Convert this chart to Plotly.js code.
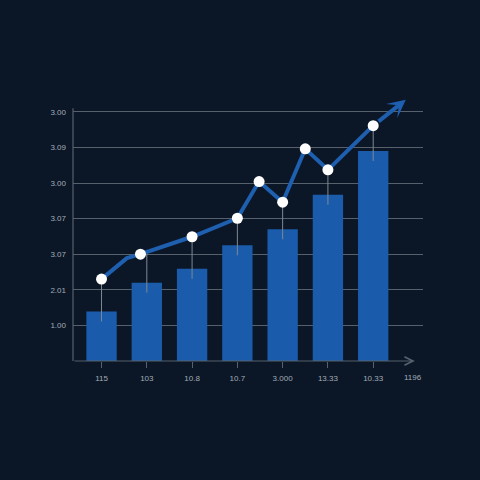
<!DOCTYPE html>
<html>
<head>
<meta charset="utf-8">
<script src="https://cdn.plot.ly/plotly-3.0.1.min.js"></script>
<style>
  html, body { margin: 0; padding: 0; background: #0b1727; }
  #plot { width: 480px; height: 480px; }
</style>
</head>
<body>
<div id="plot"></div>
<script>
// bars
const barX = [0, 1, 2, 3, 4, 5, 6];
const barVals = [1.39, 2.20, 2.59, 3.25, 3.70, 4.67, 5.90];
const xLabels = ["115", "103", "10.8", "10.7", "3.000", "13.33", "10.33"];

// trend line (the bend at 0.56 has no marker)
const lineX = [0, 0.56, 0.86, 2, 3, 3.48, 4, 4.5, 5, 6];
const lineY = [2.30, 2.89, 3.00, 3.49, 4.01, 5.04, 4.46, 5.96, 5.37, 6.61];
const dotX = [0, 0.86, 2, 3, 3.48, 4, 4.5, 5, 6];
const dotY = [2.30, 3.00, 3.49, 4.01, 5.04, 4.46, 5.96, 5.37, 6.61];
const arrowTip = [6.72, 7.34];

// thin stems from the line down into each bar
const stemTop = [2.30, 3.04, 3.49, 4.01, 4.46, 5.37, 6.61];

const yTickVals = [1, 2, 3, 4, 5, 6, 7];
const yTickText = ["1.00", "2.01", "3.07", "3.07", "3.00", "3.09", "3.00"];
const extraXLabel = "1196";

const gridCol = "#56616d";
const textCol = "#a3abb6";
const blue = "#1a5cab";

const stemX = [], stemY = [];
barX.forEach((x, i) => {
  stemX.push(x, x, null);
  stemY.push(stemTop[i], barVals[i] - 0.28, null);
});

const bars = {
  type: "bar",
  x: barX,
  y: barVals,
  width: 0.67,
  marker: { color: blue },
  hoverinfo: "skip"
};

const stems = {
  type: "scatter",
  mode: "lines",
  x: stemX,
  y: stemY,
  line: { color: "#7f8993", width: 1 },
  hoverinfo: "skip"
};

const line = {
  type: "scatter",
  mode: "lines",
  x: lineX,
  y: lineY,
  line: { color: "#1f5fb0", width: 4 },
  hoverinfo: "skip"
};

const dots = {
  type: "scatter",
  mode: "markers",
  x: dotX,
  y: dotY,
  marker: { color: "#ffffff", size: 11 },
  hoverinfo: "skip"
};

const layout = {
  width: 480,
  height: 480,
  paper_bgcolor: "#0b1727",
  plot_bgcolor: "#0b1727",
  margin: { l: 73, r: 57, t: 94, b: 119 },
  showlegend: false,
  font: { family: "Liberation Sans, Arial, sans-serif", size: 8, color: textCol },
  xaxis: {
    range: [-0.63, 7.1],
    tickvals: barX,
    ticktext: xLabels,
    ticks: "outside",
    ticklen: 6,
    tickcolor: gridCol,
    ticklabelstandoff: 3,
    showgrid: false,
    zeroline: false,
    showline: false,
    fixedrange: true
  },
  yaxis: {
    range: [0, 7.5],
    tickvals: yTickVals,
    ticktext: yTickText,
    ticks: "",
    ticklabelstandoff: 6,
    showgrid: true,
    gridcolor: gridCol,
    gridwidth: 1,
    zeroline: false,
    showline: false,
    fixedrange: true
  },
  shapes: [
    {
      type: "line", xref: "paper", yref: "y",
      x0: 0, x1: 0, y0: 0, y1: 7.1,
      line: { color: gridCol, width: 1.2 }
    }
  ],
  annotations: [
    {
      // x axis with open arrowhead
      xref: "x", yref: "y", axref: "x", ayref: "y",
      x: 6.92, y: 0, ax: -0.63, ay: 0,
      text: "", showarrow: true,
      arrowhead: 5, arrowsize: 1.4, arrowwidth: 1.2, arrowcolor: gridCol
    },
    {
      // trend arrow
      xref: "x", yref: "y", axref: "x", ayref: "y",
      x: arrowTip[0], y: arrowTip[1], ax: lineX[lineX.length - 1], ay: lineY[lineY.length - 1],
      text: "", showarrow: true, startstandoff: 5,
      arrowhead: 3, arrowsize: 0.75, arrowwidth: 4, arrowcolor: "#1f5fb0"
    },
    {
      xref: "x", yref: "paper",
      x: 6.87, y: 0, yanchor: "top", yshift: -10,
      text: extraXLabel, showarrow: false,
      font: { family: "Liberation Sans, Arial, sans-serif", size: 8, color: textCol }
    }
  ]
};

Plotly.newPlot("plot", [bars, stems, line, dots], layout, { displayModeBar: false, staticPlot: true });
</script>
</body>
</html>
